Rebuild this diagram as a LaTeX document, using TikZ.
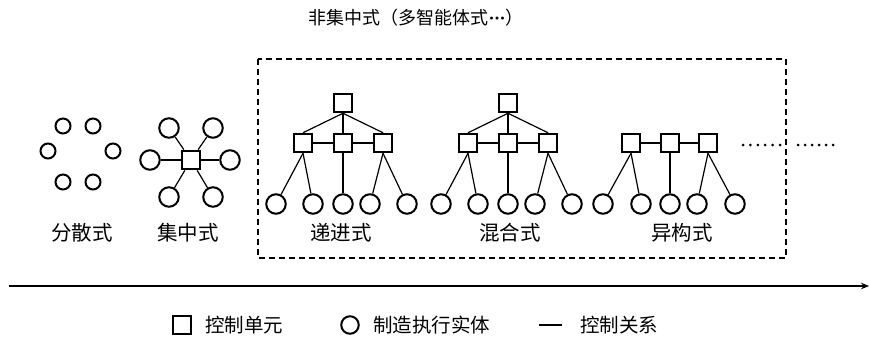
\documentclass[tikz,border=0pt]{standalone}
\usepackage{fontspec}
\setmainfont{Liberation Serif}
\newfontfamily\cjk{Noto Sans CJK SC}
\usetikzlibrary{arrows.meta}
\begin{document}
\begin{tikzpicture}[x=1pt,y=-1pt,
  ctrl/.style={draw,line width=2pt,rectangle,minimum size=18.5pt,inner sep=0pt},
  ent/.style={draw,line width=2pt,circle,minimum size=19.5pt,inner sep=0pt},
  sent/.style={draw,line width=2pt,circle,minimum size=15pt,inner sep=0pt},
  rel/.style={line width=1.2pt},
  lab/.style={font=\cjk\fontsize{20.5}{20.5}\selectfont},
  leg/.style={font=\cjk\fontsize{19.5}{19.5}\selectfont,anchor=west,inner sep=0pt},
  dotm/.style={fill=black},
]
\useasboundingbox (0,0) rectangle (869,338);

% title
\node[font=\cjk\fontsize{18}{18}\selectfont] (title) at (416,18) {非集中式（多智能体式{\rmfamily\bfseries ·\kern-0.5pt·\kern-0.5pt·}）};

% dashed frame
\draw[line width=1.1pt,dash pattern=on 6pt off 4pt] (258,59) rectangle (786,258);

% scattered
\foreach \x/\y [count=\i] in {63/126,93/126,48/151,113/151,63/182,93/182}
  \node[sent] (sc\i) at (\x,\y) {};
\node[lab] (l1) at (82,233) {分散式};

% centralized
\node[ctrl,line width=2.4pt] (cs) at (191,160) {};
\foreach \x/\y [count=\i] in {169/128,213/128,150/160,230/160,169/197,213/197}{
  \node[ent] (cc\i) at (\x,\y) {};
  \draw[rel] (cs) -- (cc\i);
}
\node[lab] (l2) at (188,233) {集中式};

% hierarchical and hybrid
\foreach \cx/\nm in {343/a,508/b}{
  \node[ctrl] (\nm t) at (\cx,103) {};
  \node[ctrl] (\nm m1) at (\cx-40,143) {};
  \node[ctrl] (\nm m2) at (\cx,143) {};
  \node[ctrl] (\nm m3) at (\cx+40,143) {};
  \foreach \dx [count=\i] in {-67,-30,0,27,64}
    \node[ent] (\nm c\i) at (\cx+\dx,204) {};
  \draw[rel] (\nm t.south) -- (\nm m1.north);
  \draw[rel] (\nm t.south) -- (\nm m2.north);
  \draw[rel] (\nm t.south) -- (\nm m3.north);
  \draw[rel] (\nm m1) -- (\nm m2);
  \draw[rel] (\nm m2) -- (\nm m3);
  \draw[rel] (\nm m1.south) -- (\nm c1);
  \draw[rel] (\nm m1.south) -- (\nm c2);
  \draw[rel] (\nm m2.south) -- (\nm c3);
  \draw[rel] (\nm m3.south) -- (\nm c4);
  \draw[rel] (\nm m3.south) -- (\nm c5);
}
\node[lab] (l3) at (341,233) {递进式};
\node[lab] (l4) at (510,233) {混合式};

% heterogeneous
\node[ctrl] (h1) at (631,143) {};
\node[ctrl] (h2) at (670,143) {};
\node[ctrl] (h3) at (708,143) {};
\foreach \x [count=\i] in {603,641,670,697,735}
  \node[ent] (hc\i) at (\x,204) {};
\draw[rel] (h1) -- (h2);
\draw[rel] (h2) -- (h3);
\draw[rel] (h1.south) -- (hc1);
\draw[rel] (h1.south) -- (hc2);
\draw[rel] (h2.south) -- (hc3);
\draw[rel] (h3.south) -- (hc4);
\draw[rel] (h3.south) -- (hc5);
\node[lab] (l5) at (682,233) {异构式};

% ellipsis dots
\foreach \i in {0,...,5}{
  \fill[dotm] (743+\i*7.4,145) circle (1.5);
  \fill[dotm] (798+\i*7.0,145) circle (1.5);
}

% axis arrow
\coordinate (ax0) at (9,286);
\coordinate (ax1) at (869,286);
\draw[line width=1.3pt,-{Stealth[length=8pt,width=6.5pt]}] (ax0) -- (ax1);

% legend
\node[ctrl,minimum size=17.5pt] (lg1) at (182,325) {};
\node[leg] (lt1) at (205,325) {控制单元};
\node[ent,minimum size=17.5pt] (lg2) at (350,325) {};
\node[leg] (lt2) at (373,325) {制造执行实体};
\coordinate (lg3a) at (539,325);
\coordinate (lg3b) at (562,325);
\draw[rel] (lg3a) -- (lg3b);
\node[leg] (lt3) at (580,325) {控制关系};
\end{tikzpicture}
\end{document}
